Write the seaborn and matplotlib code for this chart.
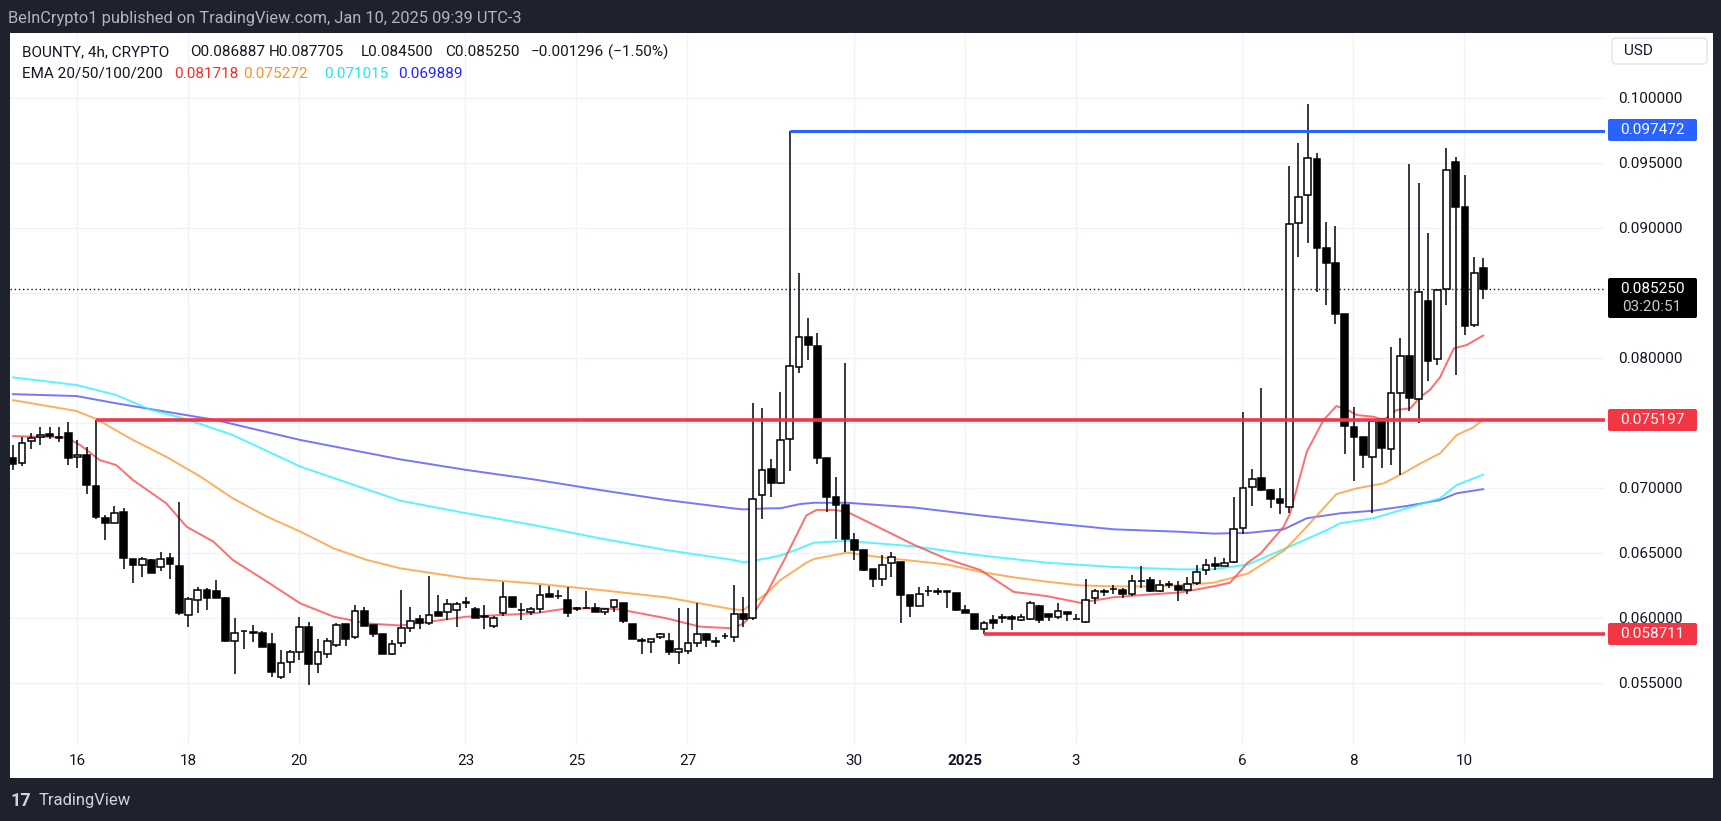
import matplotlib
matplotlib.use("Agg")
import matplotlib.pyplot as plt
import seaborn as sns
from matplotlib.patches import Rectangle, FancyBboxPatch

# ---- candle data (4h, BOUNTY) ----
opens = [0.07226, 0.07187, 0.07356, 0.07387, 0.07413, 0.07390, 0.07423, 0.07236, 0.07251, 0.07015,
         0.06769, 0.06726, 0.06810, 0.06451, 0.06405, 0.06444, 0.06387, 0.06459, 0.06397, 0.06020,
         0.06136, 0.06213, 0.06208, 0.06154, 0.05823, 0.05895, 0.05887, 0.05885, 0.05795, 0.05546,
         0.05662, 0.05738, 0.05931, 0.05644, 0.05720, 0.05790, 0.05949, 0.05849, 0.06051, 0.05941,
         0.05874, 0.05720, 0.05808, 0.05923, 0.05987, 0.05956, 0.06046, 0.06046, 0.06059, 0.06113,
         0.06067, 0.06010, 0.05938, 0.06033, 0.06156, 0.06059, 0.06041, 0.06064, 0.06180, 0.06164,
         0.06136, 0.06077, 0.06077, 0.06072, 0.06046, 0.06080, 0.06115, 0.05951, 0.05826, 0.05815,
         0.05854, 0.05820, 0.05738, 0.05744, 0.05808, 0.05874, 0.05818, 0.05858, 0.05849, 0.06028,
         0.06000, 0.06944, 0.07146, 0.07033, 0.07372, 0.07926, 0.08162, 0.08090, 0.07228, 0.06926,
         0.06870, 0.06599, 0.06521, 0.06372, 0.06297, 0.06417, 0.06431, 0.06171, 0.06093, 0.06205,
         0.06199, 0.06201, 0.06191, 0.06060, 0.06031, 0.05911, 0.05981, 0.05998, 0.06009, 0.05984,
         0.05989, 0.06087, 0.06026, 0.06003, 0.06045, 0.05992, 0.05970, 0.06149, 0.06199, 0.06219,
         0.06213, 0.06185, 0.06283, 0.06289, 0.06205, 0.06255, 0.06241, 0.06213, 0.06269, 0.06367,
         0.06414, 0.06400, 0.06428, 0.06689, 0.07005, 0.07072, 0.06982, 0.06910, 0.06854, 0.09039,
         0.09252, 0.09526, 0.08841, 0.08731, 0.08336, 0.07470, 0.07393, 0.07240, 0.07526, 0.07295,
         0.07726, 0.08016, 0.07680, 0.08439, 0.07987, 0.08526, 0.09508, 0.09157, 0.08252, 0.086887]
highs = [0.07328, 0.07392, 0.07423, 0.07469, 0.07469, 0.07469, 0.07508, 0.07367, 0.07315, 0.075197,
         0.06790, 0.06862, 0.06846, 0.06451, 0.06469, 0.06449, 0.06508, 0.06495, 0.06892, 0.06162,
         0.06238, 0.06226, 0.06290, 0.06160, 0.05995, 0.05900, 0.05944, 0.05900, 0.05880, 0.05751,
         0.05751, 0.06008, 0.05969, 0.05833, 0.05841, 0.05956, 0.05949, 0.06097, 0.06085, 0.05941,
         0.05874, 0.05828, 0.06213, 0.06085, 0.06020, 0.06320, 0.06174, 0.06141, 0.06123, 0.06156,
         0.06085, 0.06097, 0.06013, 0.06277, 0.06156, 0.06115, 0.06085, 0.06251, 0.06244, 0.06213,
         0.06233, 0.06085, 0.06208, 0.06110, 0.06072, 0.06136, 0.06115, 0.05951, 0.05841, 0.05833,
         0.05885, 0.05885, 0.06072, 0.06072, 0.06110, 0.05880, 0.05854, 0.05885, 0.06251, 0.06156,
         0.07654, 0.07610, 0.07218, 0.07738, 0.097472, 0.08654, 0.08303, 0.08188, 0.07231, 0.07080,
         0.07961, 0.06652, 0.06521, 0.06372, 0.06484, 0.06507, 0.06431, 0.06177, 0.06233, 0.06241,
         0.06227, 0.06202, 0.06191, 0.06100, 0.06031, 0.05975, 0.06017, 0.06031, 0.06017, 0.06031,
         0.06129, 0.06101, 0.06031, 0.06115, 0.06045, 0.06031, 0.06297, 0.06221, 0.06221, 0.06255,
         0.06227, 0.06325, 0.06395, 0.06311, 0.06289, 0.06283, 0.06283, 0.06311, 0.06409, 0.06451,
         0.06465, 0.06457, 0.06926, 0.07584, 0.07145, 0.07764, 0.06990, 0.06995, 0.09475, 0.09649,
         0.09951, 0.09577, 0.09046, 0.09013, 0.08336, 0.07623, 0.07393, 0.07520, 0.07526, 0.08080,
         0.08154, 0.09490, 0.09341, 0.08957, 0.08530, 0.09611, 0.09546, 0.09405, 0.08772, 0.087705]
lows = [0.07136, 0.07167, 0.07295, 0.07328, 0.07372, 0.07354, 0.07174, 0.07149, 0.06951, 0.06762,
        0.06597, 0.06726, 0.06374, 0.06269, 0.06310, 0.06341, 0.06362, 0.06295, 0.06020, 0.05926,
        0.06038, 0.06059, 0.06154, 0.05815, 0.05567, 0.05756, 0.05815, 0.05772, 0.05546, 0.05526,
        0.05572, 0.05674, 0.05482, 0.05572, 0.05687, 0.05777, 0.05782, 0.05833, 0.05936, 0.05854,
        0.05720, 0.05713, 0.05772, 0.05892, 0.05910, 0.05944, 0.06013, 0.05982, 0.05931, 0.06072,
        0.06000, 0.05915, 0.05918, 0.06013, 0.06072, 0.05982, 0.06020, 0.06033, 0.06156, 0.06141,
        0.06003, 0.06054, 0.06074, 0.06041, 0.06020, 0.06046, 0.05962, 0.05833, 0.05720, 0.05731,
        0.05833, 0.05713, 0.05644, 0.05720, 0.05777, 0.05777, 0.05772, 0.05833, 0.05815, 0.05931,
        0.05982, 0.06756, 0.06931, 0.07028, 0.07131, 0.07880, 0.07982, 0.07182, 0.06814, 0.06605,
        0.06507, 0.06445, 0.06362, 0.06233, 0.06241, 0.06311, 0.05961, 0.06003, 0.06087, 0.06166,
        0.06171, 0.06073, 0.06054, 0.06040, 0.05911, 0.058711, 0.05914, 0.05961, 0.05905, 0.05975,
        0.05981, 0.05961, 0.05975, 0.05989, 0.05975, 0.05989, 0.05961, 0.06109, 0.06166, 0.06185,
        0.06149, 0.06166, 0.06227, 0.06199, 0.06199, 0.06227, 0.06129, 0.06185, 0.06255, 0.06325,
        0.06367, 0.06395, 0.06423, 0.06647, 0.06856, 0.06975, 0.06841, 0.06798, 0.06808, 0.08777,
        0.08880, 0.08508, 0.08405, 0.08259, 0.07260, 0.07054, 0.07150, 0.06808, 0.07150, 0.07175,
        0.07098, 0.07593, 0.07495, 0.07823, 0.07944, 0.08405, 0.07867, 0.08174, 0.08234, 0.084500]
closes = [0.07182, 0.07346, 0.07379, 0.07405, 0.07397, 0.07385, 0.07231, 0.07249, 0.07021, 0.06777,
          0.06731, 0.06803, 0.06456, 0.06405, 0.06449, 0.06346, 0.06451, 0.06413, 0.06038, 0.06144,
          0.06213, 0.06154, 0.06154, 0.05823, 0.05885, 0.05897, 0.05885, 0.05772, 0.05585, 0.05654,
          0.05738, 0.05931, 0.05644, 0.05738, 0.05820, 0.05944, 0.05833, 0.06051, 0.05936, 0.05874,
          0.05720, 0.05797, 0.05918, 0.05974, 0.05956, 0.06020, 0.06013, 0.06105, 0.06103, 0.06116,
          0.06000, 0.06006, 0.06000, 0.06156, 0.06085, 0.06056, 0.06064, 0.06177, 0.06162, 0.06167,
          0.06033, 0.06064, 0.06074, 0.06041, 0.06069, 0.06136, 0.05974, 0.05833, 0.05823, 0.05833,
          0.05874, 0.05738, 0.05756, 0.05803, 0.05874, 0.05828, 0.05815, 0.05860, 0.06028, 0.05987,
          0.06910, 0.07136, 0.07033, 0.07367, 0.07936, 0.08162, 0.08098, 0.07226, 0.06932, 0.06870,
          0.06605, 0.06521, 0.06367, 0.06297, 0.06409, 0.06465, 0.06177, 0.06087, 0.06185, 0.06207,
          0.06201, 0.06199, 0.06060, 0.06040, 0.05911, 0.05961, 0.05961, 0.06000, 0.05989, 0.06009,
          0.06115, 0.05981, 0.06003, 0.06054, 0.06031, 0.05989, 0.06138, 0.06205, 0.06201, 0.06221,
          0.06185, 0.06283, 0.06281, 0.06205, 0.06250, 0.06257, 0.06213, 0.06261, 0.06353, 0.06409,
          0.06400, 0.06423, 0.06680, 0.06995, 0.07066, 0.06982, 0.06910, 0.06880, 0.09028, 0.09239,
          0.09539, 0.08841, 0.08731, 0.08334, 0.07475, 0.07393, 0.07252, 0.07516, 0.07303, 0.07731,
          0.08016, 0.07688, 0.08508, 0.07977, 0.08521, 0.09444, 0.09157, 0.08246, 0.08649, 0.085250]

# ---- EMA readings (candle index, value) ----
ema20_idx = [0, 5.8, 7.3, 9.4, 11.2, 13.0, 16.6, 18.8, 21.7, 23.8, 27.5, 31.1, 34.7, 38.3, 41.9,
             49.1, 56.3, 60, 63.5, 65.6, 70.7, 74.3, 77.9, 79.0, 80.1, 81.5, 83.4, 85.1, 85.8, 86.9,
             88.7, 90.2, 93.8, 97.4, 101, 104.6, 108.2, 111.8, 115.4, 119, 122.6, 126.2, 129.8, 131.6,
             133.5, 134.9, 137.4, 138.1, 139.9, 141.7, 143.1, 144.2, 145.3, 147.1, 148.2, 149.6, 151.1,
             152.2, 153.2, 154.3, 155.8, 157.2, 159]
ema20_val = [0.07397, 0.07387, 0.07328, 0.07213, 0.07174, 0.07059, 0.06880, 0.06700, 0.06585, 0.06444,
             0.06277, 0.06110, 0.06008, 0.05956, 0.05940, 0.06008, 0.06033, 0.06072, 0.06072, 0.06064,
             0.05995, 0.05931, 0.05918, 0.05956, 0.06033, 0.06187, 0.06444, 0.06687, 0.06787, 0.06829,
             0.06829, 0.06815, 0.06689, 0.06562, 0.06451, 0.06367, 0.06199, 0.06166, 0.06115, 0.06157,
             0.06177, 0.06194, 0.06241, 0.06269, 0.06423, 0.06493, 0.06700, 0.06803, 0.07277, 0.07520,
             0.07628, 0.07603, 0.07559, 0.07546, 0.07520, 0.07598, 0.07611, 0.07700, 0.07751, 0.07849,
             0.08072, 0.08098, 0.081718]

ema50_idx = [0, 6.9, 9.1, 13.0, 16.6, 20.3, 23.8, 27.5, 31.1, 34.7, 38.3, 41.9, 49.1, 56.3, 63.5,
             70.7, 77.9, 79.0, 81.5, 83.0, 85.8, 86.6, 90.2, 93.8, 97.4, 101, 104.6, 108.2, 111.8,
             115.4, 119, 122.6, 126.2, 129.8, 133.5, 137.5, 139.9, 143.1, 145.3, 148.2, 150.3, 152.2,
             154.3, 156.1, 157.9, 159]
ema50_val = [0.07674, 0.07590, 0.07526, 0.07367, 0.07238, 0.07085, 0.06918, 0.06777, 0.06662, 0.06533,
             0.06444, 0.06380, 0.06303, 0.06264, 0.06213, 0.06156, 0.06064, 0.06059, 0.06187, 0.06290,
             0.06423, 0.06451, 0.06501, 0.06465, 0.06437, 0.06409, 0.06353, 0.06311, 0.06277, 0.06249,
             0.06241, 0.06241, 0.06249, 0.06269, 0.06339, 0.06520, 0.06700, 0.06951, 0.06995, 0.07033,
             0.07110, 0.07187, 0.07264, 0.07405, 0.07464, 0.075272]

ema100_idx = [0, 6.9, 11.2, 14.8, 18.8, 23.8, 31.1, 41.9, 49.1, 56.3, 63.5, 70.7, 77.9, 79.0, 81.5,
              83.0, 85.1, 86.6, 90.2, 97.4, 104.6, 111.8, 119, 126.2, 129.8, 133.5, 137.5, 142.1,
              143.5, 147.1, 150.7, 154.3, 156.1, 159]
ema100_val = [0.07849, 0.07790, 0.07713, 0.07603, 0.07526, 0.07405, 0.07162, 0.06900, 0.06803, 0.06713,
              0.06610, 0.06520, 0.06444, 0.06426, 0.06456, 0.06479, 0.06533, 0.06577, 0.06591, 0.06549,
              0.06479, 0.06423, 0.06390, 0.06372, 0.06372, 0.06409, 0.06530, 0.06675, 0.06726, 0.06765,
              0.06841, 0.06918, 0.07021, 0.071015]

ema200_idx = [0, 6.9, 11.2, 22.0, 31.1, 41.9, 49.1, 56.3, 63.5, 70.7, 77.9, 79.0, 81.5, 83.0, 85.1,
              86.6, 90.2, 97.4, 104.6, 111.8, 119, 126.2, 129.8, 133.5, 137.4, 139.9, 143.5, 147.1,
              150.7, 154.3, 156.1, 159]
ema200_val = [0.07720, 0.07705, 0.07649, 0.07520, 0.07367, 0.07218, 0.07136, 0.07064, 0.06982, 0.06905,
              0.06841, 0.06833, 0.06841, 0.06842, 0.06874, 0.06884, 0.06884, 0.06848, 0.06787, 0.06731,
              0.06680, 0.06661, 0.06647, 0.06652, 0.06680, 0.06765, 0.06803, 0.06823, 0.06859, 0.06905,
              0.06957, 0.069889]

# ---- levels and axis labels ----
resistance_high = 0.097472
resistance_high_start = 84
level_mid = 0.075197
level_mid_start = 9
support_low = 0.058711
support_low_start = 105
last_price = 0.085250
countdown = "03:20:51"

price_ticks = [0.055, 0.060, 0.065, 0.070, 0.075, 0.080, 0.085, 0.090, 0.095, 0.100]
hidden_ticks = [0.075, 0.085]  # covered by the price tags in the screenshot
date_day_offsets = [0, 2, 4, 7, 9, 11, 14, 16, 18, 21, 23, 25]
date_labels = ["16", "18", "20", "23", "25", "27", "30", "2025", "3", "6", "8", "10"]

W, H = 1721, 821
sns.set_style("white")
plt.rcParams["font.family"] = ["Roboto", "DejaVu Sans"]

fig = plt.figure(figsize=(W / 100, H / 100), dpi=100, facecolor="#1e222d")


def frac(x0, y0, x1, y1):
    # pixel box (top-left origin) -> figure fraction rect
    return [x0 / W, 1 - y1 / H, (x1 - x0) / W, (y1 - y0) / H]


# white panel
bg = fig.add_axes([0, 0, 1, 1], zorder=0)
bg.set_xlim(0, W)
bg.set_ylim(H, 0)
bg.axis("off")
bg.add_patch(Rectangle((10, 33), 1703, 745, facecolor="white", edgecolor="none"))

# main chart axes
ax = fig.add_axes(frac(10, 33, 1605, 745), zorder=1)
ax.set_facecolor("white")
ax.set_xlim(-0.29, 172.14)
ax.set_ylim(0.050208, 0.104977)
for s in ax.spines.values():
    s.set_visible(False)

tick_idx = [6.95 + 6 * d for d in date_day_offsets]
ax.set_xticks(tick_idx)
ax.set_xticklabels(date_labels)
ax.set_yticks(price_ticks)
ax.set_yticklabels(["" if p in hidden_ticks else f"{p:.6f}" for p in price_ticks])
ax.yaxis.tick_right()
ax.tick_params(axis="y", length=0, pad=9.4, labelsize=11, labelcolor="#131722")
ax.tick_params(axis="x", length=0, pad=6.5, labelsize=11, labelcolor="#131722")
ax.get_xticklabels()[7].set_fontweight("bold")
ax.grid(True, color="#f0f3fa", lw=1)
ax.set_axisbelow(True)

# EMAs
sns.lineplot(x=ema200_idx, y=ema200_val, ax=ax, color="#3b3bff", alpha=0.7, lw=1.4, zorder=2)
sns.lineplot(x=ema100_idx, y=ema100_val, ax=ax, color="#2ef2ff", alpha=0.8, lw=1.4, zorder=2)
sns.lineplot(x=ema50_idx, y=ema50_val, ax=ax, color="#ff9a33", alpha=0.8, lw=1.4, zorder=2)
sns.lineplot(x=ema20_idx, y=ema20_val, ax=ax, color="#ff4a4a", alpha=0.8, lw=1.4, zorder=2)

# candles
idx = list(range(len(opens)))
ax.vlines(idx, lows, highs, color="#131722", lw=1.2, zorder=3)
bottoms = [min(o, c) for o, c in zip(opens, closes)]
heights = [max(abs(c - o), 0.00004) for o, c in zip(opens, closes)]
fills = ["white" if c >= o else "black" for o, c in zip(opens, closes)]
ax.bar(idx, heights, bottom=bottoms, width=0.72, color=fills, edgecolor="black", lw=1.1, zorder=4)

# horizontal levels
xr = ax.get_xlim()[1]
ax.hlines(resistance_high, resistance_high_start, xr, color="#2962ff", lw=2.2, zorder=5)
ax.hlines(level_mid, level_mid_start, xr, color="#f23645", lw=2.6, zorder=5)
ax.hlines(support_low, support_low_start, xr, color="#f23645", lw=2.6, zorder=5)
ax.axhline(last_price, color="#131722", lw=1, ls=(0, (1, 2)), zorder=1)

# overlay texts
ov = fig.add_axes([0, 0, 1, 1], zorder=5)
ov.set_xlim(0, W)
ov.set_ylim(H, 0)
ov.axis("off")
ov.patch.set_visible(False)

ov.text(8, 19, "BeInCrypto1 published on TradingView.com, Jan 10, 2025 09:39 UTC-3",
        color="#b2b5be", fontsize=11.8, va="center", ha="left")

leg_y1, leg_y2 = 52, 74
ov.text(22, leg_y1, "BOUNTY, 4h, CRYPTO", color="#131722", fontsize=11, va="center")
for x, t in [(190, "O0.086887"), (269, "H0.087705"), (361, "L0.084500"), (445, "C0.085250"),
             (531, "\u22120.001296"), (608, "(\u22121.50%)")]:
    ov.text(x, leg_y1, t, color="#131722", fontsize=11, va="center")
ov.text(22, leg_y2, "EMA 20/50/100/200", color="#131722", fontsize=11, va="center")
for x, t, c in [(174, "0.081718", "#ff2b2b"), (243, "0.075272", "#ff9124"),
                (324, "0.071015", "#22e6f2"), (398, "0.069889", "#2323ff")]:
    ov.text(x, leg_y2, t, color=c, fontsize=11, va="center")

# USD button
ov.add_patch(FancyBboxPatch((1612, 38), 95, 26, boxstyle="round,pad=0,rounding_size=4",
                            facecolor="white", edgecolor="#e0e3eb", lw=1))
ov.text(1624, 51, "USD", color="#131722", fontsize=11, va="center")

# price tags


def tag(y0, y1, color):
    ov.add_patch(FancyBboxPatch((1608, y0), 89, y1 - y0, boxstyle="round,pad=0,rounding_size=2",
                                facecolor=color, edgecolor="none"))


tag(119, 141, "#2962ff")
ov.text(1652, 130, f"{resistance_high:.6f}", color="white", fontsize=11, ha="center", va="center")
tag(409, 431, "#f23645")
ov.text(1652, 420, f"{level_mid:.6f}", color="white", fontsize=11, ha="center", va="center")
tag(623, 645, "#f23645")
ov.text(1652, 634, f"{support_low:.6f}", color="white", fontsize=11, ha="center", va="center")
tag(278, 318, "black")
ov.text(1652, 289, f"{last_price:.6f}", color="white", fontsize=11, ha="center", va="center")
ov.text(1652, 307, countdown, color="#c8cad0", fontsize=11, ha="center", va="center")

# TradingView logo
ov.text(10, 801, "17", color="#d1d4dc", fontsize=13, fontweight="bold", va="center")
ov.text(39, 801, "TradingView", color="#d1d4dc", fontsize=12, va="center")

fig.savefig("out.png", dpi=100, facecolor=fig.get_facecolor())
